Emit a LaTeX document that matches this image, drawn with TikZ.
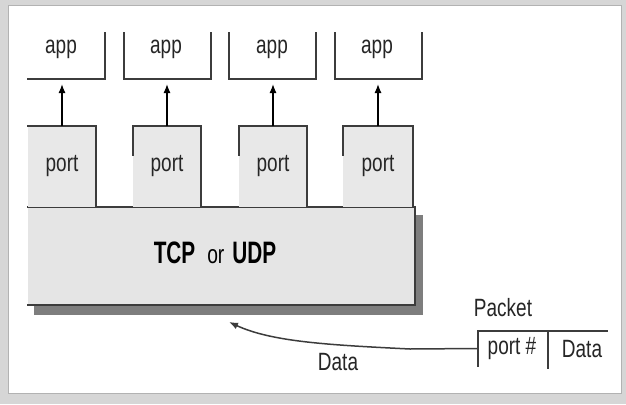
\documentclass[tikz,border=0pt]{standalone}
\usepackage{fontspec}
\setmainfont{Liberation Sans}
\newfontfamily\narrowf[FakeStretch=0.76]{Liberation Sans}
\newfontfamily\narrowo[FakeStretch=0.74]{Liberation Sans}
\newfontfamily\narrowb[FakeStretch=0.67]{Liberation Sans Bold}
\usetikzlibrary{arrows.meta,calc}
\definecolor{lc}{HTML}{3C3C3C}
\definecolor{txt}{HTML}{262626}
\definecolor{portfill}{HTML}{E8E8E8}
\definecolor{tcpfill}{HTML}{E5E5E5}
\definecolor{shadowc}{HTML}{7E7E7E}
\definecolor{framebg}{HTML}{D6D6D6}
\begin{document}
\begin{tikzpicture}[x=1pt,y=-1pt,
  boxline/.style={draw=lc, line width=1.8pt, line cap=rect},
  lbl/.style={font=\narrowf\fontsize{25}{27}\selectfont, text=txt, inner sep=0pt},
  emptybox/.style={inner sep=0pt, outer sep=0pt, draw=none},
  upar/.style={draw=black, line width=1.3pt, -{Latex[length=9pt,width=7pt]}},
  dataar/.style={draw=lc, line width=1.5pt, -{Latex[length=9pt,width=7pt]}}]
\useasboundingbox (0,0) rectangle (626,404);
% frame
\fill[framebg] (0,0) rectangle (626,404);
\fill[white] (8,5) rectangle (621,393);
\draw[gray!60, line width=0.6pt] (8,5) rectangle (621,393);

% app boxes
\node[emptybox, minimum width=77pt, minimum height=46pt] (a1) at (66.5,56) {};
\node[emptybox, minimum width=87pt, minimum height=46pt] (a2) at (167.5,56) {};
\node[emptybox, minimum width=87pt, minimum height=46pt] (a3) at (272.5,56) {};
\node[emptybox, minimum width=87pt, minimum height=46pt] (a4) at (378.5,56) {};
\draw[boxline] (a1.south west) -- (a1.south east) -- (a1.north east);
\foreach \i in {2,3,4}{
  \draw[boxline] (a\i.north west) -- (a\i.south west) -- (a\i.south east) -- (a\i.north east);
}
\node[lbl] (at1) at (61,49) {app};
\node[lbl] (at2) at (166,49) {app};
\node[lbl] (at3) at (272,49) {app};
\node[lbl] (at4) at (377,49) {app};

% TCP box with shadow
\fill[shadowc] (34,215) rectangle (423,315);
\node[emptybox, fill=tcpfill, minimum width=387pt, minimum height=98pt] (tcp) at (221.5,256) {};
\draw[boxline] (tcp.north west) -- (tcp.north east) -- (tcp.south east) -- (tcp.south west);
\node[inner sep=0pt, text=black] (tcpt) at (215,253)
  {{\narrowb\fontsize{31}{33}\selectfont TCP}\hspace{12pt}{\narrowo\fontsize{26}{28}\selectfont or}\hspace{8pt}{\narrowb\fontsize{31}{33}\selectfont UDP}};

% port boxes
\node[emptybox, fill=portfill, minimum width=68pt, minimum height=81pt, lbl] (p1) at (62,166.5) {port};
\node[emptybox, fill=portfill, minimum width=68pt, minimum height=81pt, lbl] (p2) at (167,166.5) {port};
\node[emptybox, fill=portfill, minimum width=68pt, minimum height=81pt, lbl] (p3) at (273,166.5) {port};
\node[emptybox, fill=portfill, minimum width=70pt, minimum height=81pt, lbl] (p4) at (378,166.5) {port};
\draw[boxline] (p1.north west) -- (p1.north east) -- (p1.south east);
\foreach \i in {2,3,4}{
  \draw[boxline] ($(p\i.north west)+(0,29)$) -- (p\i.north west) -- (p\i.north east) -- (p\i.south east);
}

% arrows port -> app
\foreach \i in {1,2,3,4}{
  \draw[upar, shorten >=5pt] (p\i.north) -- (p\i.north |- a\i.south);
}

% packet
\node[lbl] (pkt) at (503,308) {Packet};
\node[emptybox, minimum width=70pt, minimum height=35pt] (pf) at (513,348.5) {};
\node[lbl] (pft) at (512,349) {port \#};
\node[lbl] (pdt) at (582,349) {Data};
\coordinate (pend) at (607,331);
\draw[boxline, line width=1.6pt] (pf.south west) -- (pf.north west) -- (pend);
\draw[boxline, line width=1.6pt] (pf.north east) -- ($(pf.south east)+(0,2)$);

% data arrow
\coordinate (dtip) at (229,322);
\draw[dataar] (pf.west) -- (410,349) .. controls (330,345) and (272,342) .. (dtip);
\node[lbl] (dlab) at (338,362) {Data};
\end{tikzpicture}
\end{document}
